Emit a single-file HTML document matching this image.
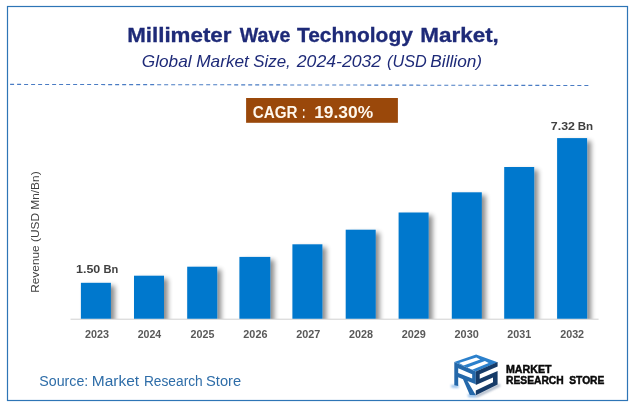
<!DOCTYPE html>
<html>
<head>
<meta charset="utf-8">
<title>Millimeter Wave Technology Market</title>
<style>
html,body{margin:0;padding:0;background:#fff;}
body{width:634px;height:407px;overflow:hidden;font-family:"Liberation Sans",sans-serif;}
svg{display:block;}
text{font-family:"Liberation Sans",sans-serif;}
</style>
</head>
<body>
<svg width="634" height="407" viewBox="0 0 634 407">
  <defs>
    <filter id="sh" x="-40%" y="-10%" width="200%" height="130%">
      <feGaussianBlur in="SourceAlpha" stdDeviation="2.5"/>
      <feOffset dx="3.6" dy="3.0"/>
      <feComponentTransfer><feFuncA type="linear" slope="0.45"/></feComponentTransfer>
      <feMerge><feMergeNode/><feMergeNode in="SourceGraphic"/></feMerge>
    </filter>
    <filter id="lsh" x="-20%" y="-20%" width="140%" height="140%"><feGaussianBlur stdDeviation="1.2"/></filter>
    <clipPath id="plot"><rect x="60" y="100" width="560" height="218.7"/></clipPath>
  </defs>
  <rect x="0" y="0" width="634" height="407" fill="#ffffff"/>
  <rect x="7.5" y="6.5" width="620" height="394" fill="none" stroke="#2e75b6" stroke-width="1.2"/>
  <line x1="10.1" y1="84.4" x2="589" y2="85.5" stroke="#4a7cc4" stroke-width="1.1" stroke-dasharray="4 3.003"/>
  <rect x="246.1" y="98" width="151.8" height="24.8" fill="#9a480a"/>
  <line x1="70.5" y1="319.2" x2="598.6" y2="319.2" stroke="#d0d0d0" stroke-width="1"/>
  <g clip-path="url(#plot)">
    <g filter="url(#sh)" fill="#0678cd">
      <rect x="80.9" y="282.8" width="30.0" height="47.2"/>
      <rect x="134.0" y="275.7" width="30.0" height="54.3"/>
      <rect x="187.2" y="266.7" width="30.0" height="63.3"/>
      <rect x="239.4" y="256.9" width="30.9" height="73.1"/>
      <rect x="292.4" y="244.3" width="30.0" height="85.7"/>
      <rect x="345.7" y="229.7" width="30.0" height="100.3"/>
      <rect x="398.6" y="212.5" width="30.0" height="117.5"/>
      <rect x="451.8" y="192.3" width="30.0" height="137.7"/>
      <rect x="504.2" y="167.0" width="30.0" height="163.0"/>
      <rect x="557.1" y="138.1" width="30.0" height="191.9"/>
    </g>
  </g>
  <text transform="translate(39,292.8) rotate(-90)" font-size="11" fill="#404040" textLength="121.4" lengthAdjust="spacingAndGlyphs">Revenue (USD Mn/Bn)</text>
  <g>
    <g filter="url(#lsh)" opacity="0.8">
      <polygon points="450.8,385 458.5,385.6 458.5,388 451.5,387.6" fill="#6ea9e4"/>
      <polygon points="467.5,394.3 476,395 476,397.6 468.5,397.2" fill="#6ea9e4"/>
      <polygon points="476,395 499.5,383.8 500.5,386.2 476.5,397.8" fill="#93a2b7"/>
    </g>
    <polygon points="454.3,362 476.1,354.5 497.6,362.2 475.8,371.6" fill="#2b80cc"/>
    <polygon points="459,362.9 476.3,357.5 480.2,359.6 463.6,365.6" fill="#fff"/>
    <polygon points="467.4,367.6 484.9,361.1 488.7,363 472.1,369.8" fill="#fff"/>
    <path d="M454.3,362 L475.8,371.5 L475.8,384.3 L467.5,380.9 L475.8,395.3 L469.8,394.9 L463,379.2 L458.2,377.2 L458.2,386.1 L454.3,385.2 Z M458.2,368.3 L472.2,374.3 L472.2,378.6 L458.2,373 Z" fill="#2468aa" fill-rule="evenodd"/>
    <path d="M475.8,371.5 L497.6,361.9 L497.6,366.4 L479.7,374.3 L479.7,378.8 L497.6,370.9 L497.6,384.5 L475.8,395.3 L475.8,390.4 L493,382.2 L493,377.4 L475.8,385 Z" fill="#163b68"/>
  </g>
  <text y="41.60" font-size="20.80" fill="#1e2a78" font-weight="bold" stroke="#1e2a78" stroke-width="0.3"><tspan x="127.19" textLength="104.26" lengthAdjust="spacingAndGlyphs">Millimeter</tspan> <tspan x="239.83" textLength="50.52" lengthAdjust="spacingAndGlyphs">Wave</tspan> <tspan x="296.95" textLength="115.89" lengthAdjust="spacingAndGlyphs">Technology</tspan> <tspan x="420.24" textLength="78.63" lengthAdjust="spacingAndGlyphs">Market,</tspan></text>
  <text y="67.40" font-size="16.20" fill="#1e2a78" font-style="italic"><tspan x="141.81" textLength="49.78" lengthAdjust="spacingAndGlyphs">Global</tspan> <tspan x="196.18" textLength="52.76" lengthAdjust="spacingAndGlyphs">Market</tspan> <tspan x="253.24" textLength="37.59" lengthAdjust="spacingAndGlyphs">Size,</tspan> <tspan x="296.82" textLength="84.38" lengthAdjust="spacingAndGlyphs">2024-2032</tspan> <tspan x="387.09" textLength="39.70" lengthAdjust="spacingAndGlyphs">(USD</tspan> <tspan x="430.33" textLength="51.79" lengthAdjust="spacingAndGlyphs">Billion)</tspan></text>
  <text y="117.60" font-size="15.80" fill="#fff8ee" font-weight="bold"><tspan x="252.73" textLength="44.83" lengthAdjust="spacingAndGlyphs">CAGR</tspan> <tspan x="301.88" textLength="3.40" lengthAdjust="spacingAndGlyphs">:</tspan> <tspan x="314.15" textLength="58.94" lengthAdjust="spacingAndGlyphs">19.30%</tspan></text>
  <text y="272.70" font-size="10.90" fill="#404040" font-weight="bold"><tspan x="76.01" textLength="24.23" lengthAdjust="spacingAndGlyphs">1.50</tspan> <tspan x="103.51" textLength="14.71" lengthAdjust="spacingAndGlyphs">Bn</tspan></text>
  <text y="129.80" font-size="10.90" fill="#404040" font-weight="bold"><tspan x="550.86" textLength="24.12" lengthAdjust="spacingAndGlyphs">7.32</tspan> <tspan x="577.76" textLength="15.39" lengthAdjust="spacingAndGlyphs">Bn</tspan></text>
  <text y="338.00" font-size="11.00" fill="#595959" font-weight="bold"><tspan x="84.92" textLength="24.03" lengthAdjust="spacingAndGlyphs">2023</tspan></text>
  <text y="338.00" font-size="11.00" fill="#595959" font-weight="bold"><tspan x="137.72" textLength="23.55" lengthAdjust="spacingAndGlyphs">2024</tspan></text>
  <text y="338.00" font-size="11.00" fill="#595959" font-weight="bold"><tspan x="190.58" textLength="23.81" lengthAdjust="spacingAndGlyphs">2025</tspan></text>
  <text y="338.00" font-size="11.00" fill="#595959" font-weight="bold"><tspan x="243.36" textLength="24.07" lengthAdjust="spacingAndGlyphs">2026</tspan></text>
  <text y="338.00" font-size="11.00" fill="#595959" font-weight="bold"><tspan x="296.15" textLength="24.12" lengthAdjust="spacingAndGlyphs">2027</tspan></text>
  <text y="338.00" font-size="11.00" fill="#595959" font-weight="bold"><tspan x="348.92" textLength="23.98" lengthAdjust="spacingAndGlyphs">2028</tspan></text>
  <text y="338.00" font-size="11.00" fill="#595959" font-weight="bold"><tspan x="401.69" textLength="24.16" lengthAdjust="spacingAndGlyphs">2029</tspan></text>
  <text y="338.00" font-size="11.00" fill="#595959" font-weight="bold"><tspan x="454.56" textLength="24.19" lengthAdjust="spacingAndGlyphs">2030</tspan></text>
  <text y="338.00" font-size="11.00" fill="#595959" font-weight="bold"><tspan x="507.36" textLength="23.89" lengthAdjust="spacingAndGlyphs">2031</tspan></text>
  <text y="338.00" font-size="11.00" fill="#595959" font-weight="bold"><tspan x="560.16" textLength="23.97" lengthAdjust="spacingAndGlyphs">2032</tspan></text>
  <text y="385.90" font-size="14.70" fill="#2e6da8"><tspan x="39.28" textLength="48.99" lengthAdjust="spacingAndGlyphs">Source:</tspan> <tspan x="91.73" textLength="47.42" lengthAdjust="spacingAndGlyphs">Market</tspan> <tspan x="143.93" textLength="58.83" lengthAdjust="spacingAndGlyphs">Research</tspan> <tspan x="206.05" textLength="35.07" lengthAdjust="spacingAndGlyphs">Store</tspan></text>
  <text y="373.40" font-size="11.40" fill="#0a0a0a" font-weight="bold" stroke="#0a0a0a" stroke-width="0.5"><tspan x="505.95" textLength="45.65" lengthAdjust="spacingAndGlyphs">MARKET</tspan></text>
  <text y="383.80" font-size="11.40" fill="#0a0a0a" font-weight="bold" stroke="#0a0a0a" stroke-width="0.5"><tspan x="505.99" textLength="57.73" lengthAdjust="spacingAndGlyphs">RESEARCH</tspan> <tspan x="569.25" textLength="35.11" lengthAdjust="spacingAndGlyphs">STORE</tspan></text>
</svg>
</body>
</html>
